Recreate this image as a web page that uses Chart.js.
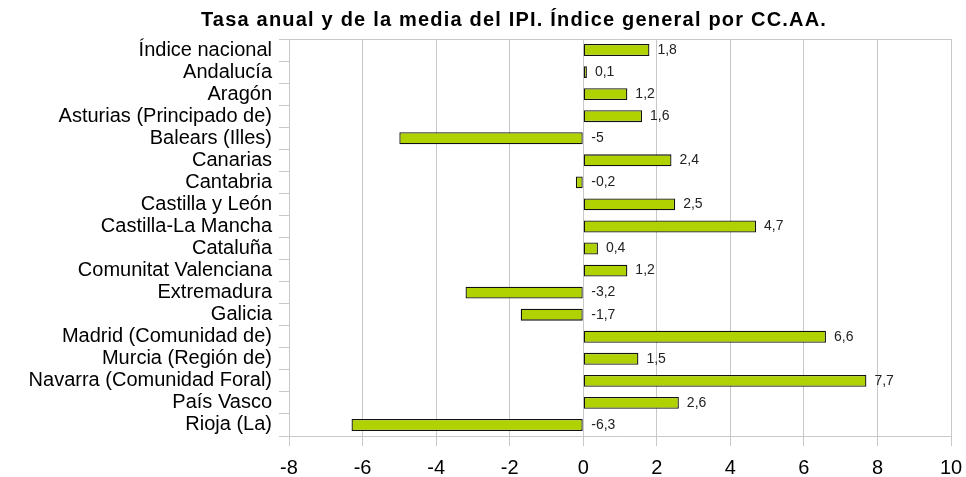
<!DOCTYPE html>
<html>
<head>
<meta charset="utf-8">
<script src="https://cdn.jsdelivr.net/npm/chart.js@4"></script>
<style>
  body { margin: 0; background: #fff; }
  canvas { display: block; }
</style>
</head>
<body>
<canvas id="ipiChart" width="966" height="477"></canvas>
<script>
// Data
const regiones = [
  'Índice nacional', 'Andalucía', 'Aragón', 'Asturias (Principado de)',
  'Balears (Illes)', 'Canarias', 'Cantabria', 'Castilla y León',
  'Castilla-La Mancha', 'Cataluña', 'Comunitat Valenciana', 'Extremadura',
  'Galicia', 'Madrid (Comunidad de)', 'Murcia (Región de)',
  'Navarra (Comunidad Foral)', 'País Vasco', 'Rioja (La)'
];
const tasaAnual = [1.8, 0.1, 1.2, 1.6, -5, 2.4, -0.2, 2.5, 4.7, 0.4, 1.2, -3.2, -1.7, 6.6, 1.5, 7.7, 2.6, -6.3];
const ejeX = { min: -8, max: 10, step: 2 };
const titulo = 'Tasa anual y de la media del IPI. Índice general por CC.AA.';

const FONT = "'Liberation Sans', Arial, sans-serif";
const GRID = '#c8c8c8';

// Title drawn centred over the picture like the original
const titlePlugin = {
  id: 'titlePlugin',
  afterDraw(chart) {
    const ctx = chart.ctx;
    ctx.save();
    ctx.letterSpacing = '1.2px';
    ctx.font = 'bold 20px ' + FONT;
    ctx.fillStyle = '#000';
    ctx.textAlign = 'center';
    ctx.textBaseline = 'alphabetic';
    ctx.fillText(titulo, 514, 26);
    ctx.restore();
  }
};

// Value labels to the right of each bar (or of zero for negatives)
const valueLabels = {
  id: 'valueLabels',
  afterDatasetsDraw(chart) {
    const ctx = chart.ctx;
    const xScale = chart.scales.x;
    const meta = chart.getDatasetMeta(0);
    ctx.save();
    ctx.font = '14px ' + FONT;
    ctx.fillStyle = '#222';
    ctx.textAlign = 'left';
    ctx.textBaseline = 'middle';
    meta.data.forEach((bar, i) => {
      const v = tasaAnual[i];
      const x = xScale.getPixelForValue(Math.max(v, 0)) + 8;
      ctx.fillText(String(v).replace('.', ','), x, bar.y);
    });
    ctx.restore();
  }
};

new Chart(document.getElementById('ipiChart'), {
  type: 'bar',
  data: {
    labels: regiones,
    datasets: [{
      data: tasaAnual,
      backgroundColor: '#b0d200',
      borderColor: '#111',
      borderWidth: 1.3,
      borderSkipped: false,
      barPercentage: 0.54,
      categoryPercentage: 1
    }]
  },
  options: {
    indexAxis: 'y',
    responsive: false,
    animation: false,
    devicePixelRatio: 1,
    layout: { padding: { top: 39, right: 15, left: 0, bottom: 0 } },
    plugins: {
      legend: { display: false },
      title: { display: false },
      tooltip: { enabled: false }
    },
    scales: {
      x: {
        min: ejeX.min,
        max: ejeX.max,
        ticks: {
          stepSize: ejeX.step,
          color: '#000',
          font: { family: FONT, size: 20 },
          padding: 10
        },
        grid: { color: GRID, tickColor: GRID, tickLength: 10, lineWidth: 1 },
        border: { color: GRID },
        afterFit(scale) {
          scale.height = 41;
          scale.paddingLeft = 0;
          scale.paddingRight = 0;
        }
      },
      y: {
        ticks: {
          color: '#000',
          font: { family: FONT, size: 20 },
          padding: 7,
          autoSkip: false
        },
        grid: {
          offset: true,
          color: ctx => ctx.index === 0 ? GRID : 'transparent',
          tickColor: GRID,
          tickLength: 10
        },
        border: { color: GRID },
        afterFit(scale) {
          scale.width = 289;
          scale.paddingTop = 0;
          scale.paddingBottom = 0;
        }
      }
    }
  },
  plugins: [titlePlugin, valueLabels]
});
</script>
</body>
</html>
